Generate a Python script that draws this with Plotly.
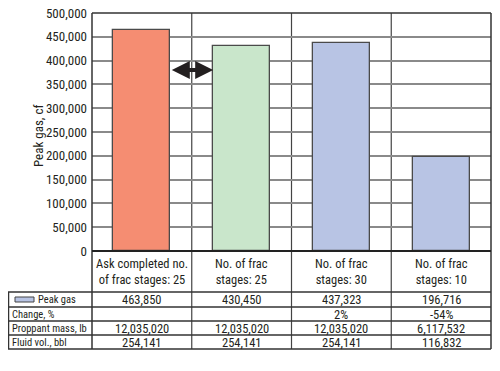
import plotly.graph_objects as go

categories = ["Ask completed no.<br>of frac stages: 25", "No. of frac<br>stages: 25",
              "No. of frac<br>stages: 30", "No. of frac<br>stages: 10"]
peak_gas = [463850, 430450, 437323, 196716]
peak_gas_txt = ["463,850", "430,450", "437,323", "196,716"]
change_txt = ["", "", "2%", "-54%"]
proppant_txt = ["12,035,020", "12,035,020", "12,035,020", "6,117,532"]
fluid_txt = ["254,141", "254,141", "254,141", "116,832"]
row_labels = ["Peak gas", "Change, %", "Proppant mass, lb", "Fluid vol., bbl"]
bar_colors = ["#F58D72", "#C9E6CB", "#B8C4E4", "#B8C4E4"]
y_ticks = list(range(0, 500001, 50000))
y_title = "Peak gas, cf"

OFF = 8  # page body margin
W, H = 500 - OFF, 371 - OFF
# plot area in window pixels: x 92..491, y 13..251
L, T = 92 - OFF, 13 - OFF
R = W - (491 - OFF)
B = H - (251 - OFF)
PH = H - T - B
PW = W - L - R
FONT = "Roboto Condensed, DejaVu Sans Condensed, sans-serif"
TXT = "#231f20"
BW = 0.57

def py(pix):  # window pixel y -> paper y
    return (H - B - (pix - OFF)) / PH

def px(pix):  # window pixel x -> paper x
    return (pix - OFF - L) / PW

def cx(c):  # category coordinate -> paper x
    return (c + 0.5) / 4

x = list(range(len(categories)))
fig = go.Figure()
fig.add_trace(go.Bar(x=x, y=peak_gas, width=BW, marker=dict(color=bar_colors,
                     line=dict(color="#4a4a4a", width=1.3)), showlegend=False))

shapes = []
ann = []
for b in [0.5, 1.5, 2.5]:
    shapes.append(dict(type="line", xref="paper", yref="paper", x0=cx(b), x1=cx(b),
                       y0=1, y1=py(349), line=dict(color="#444", width=1.2), layer="below"))
for b in [-0.5, 3.5]:
    shapes.append(dict(type="line", xref="paper", yref="paper", x0=cx(b), x1=cx(b),
                       y0=1, y1=py(349), line=dict(color="#333", width=1.5)))
shapes.append(dict(type="line", xref="paper", yref="paper", x0=0, x1=1, y0=1, y1=1,
                   line=dict(color="#333", width=1.5)))
shapes.append(dict(type="line", xref="paper", yref="paper", x0=0, x1=1, y0=0, y1=0,
                   line=dict(color="#222", width=2)))
for yy in [292, 307, 321, 335, 349]:
    shapes.append(dict(type="line", xref="paper", yref="paper", x0=px(8), x1=1,
                       y0=py(yy), y1=py(yy), line=dict(color="#333", width=1.3)))
shapes.append(dict(type="line", xref="paper", yref="paper", x0=px(8.5), x1=px(8.5),
                   y0=py(292), y1=py(349), line=dict(color="#333", width=1.5)))
shapes.append(dict(type="rect", xref="paper", yref="paper", x0=px(15), x1=px(34),
                   y0=py(302), y1=py(297), fillcolor=bar_colors[2],
                   line=dict(color="#444", width=1)))

def txt(xp, yp, s, size, xa="center", **kw):
    return dict(xref="paper", yref="paper", x=xp, y=yp, text=s, showarrow=False,
                xanchor=xa, yanchor="middle", borderpad=0,
                font=dict(family=FONT, size=size, color=TXT), **kw)

for i, c in enumerate(categories):
    ann.append(txt(cx(i), py(271.5), c, 12.5, align="center"))
rows = [peak_gas_txt, change_txt, proppant_txt, fluid_txt]
row_y = [299.5, 314, 328, 342]
for r, vals in enumerate(rows):
    for i, v in enumerate(vals):
        if v:
            ann.append(txt(cx(i), py(row_y[r]), v, 12.5))
    lx = 37 if r == 0 else 11
    ann.append(txt(px(lx), py(row_y[r]), row_labels[r], 10.5, xa="left"))

ann.append(txt(px(39), py(136), y_title, 13, textangle=-90))

ann.append(dict(x=1 - BW / 2, y=380000, ax=BW / 2, ay=380000, xref="x", yref="y",
                axref="x", ayref="y", text="", showarrow=True, arrowhead=2, arrowside="end+start",
                arrowsize=0.9, arrowwidth=4, arrowcolor="#231f20", standoff=0, startstandoff=0))

fig.update_layout(
    width=W, height=H, margin=dict(l=L, r=R, t=T, b=B, autoexpand=False),
    paper_bgcolor="white", plot_bgcolor="white",
    bargap=0,
    xaxis=dict(range=[-0.5, 3.5], showticklabels=False, showgrid=False, zeroline=False,
               ticks="", automargin=False),
    yaxis=dict(range=[0, 500000], tickvals=y_ticks, tickformat=",", showgrid=True,
               gridcolor="#8a8a8a", gridwidth=1.5, zeroline=False, ticks="", automargin=False,
               ticklabelstandoff=4, ticklabeloverflow="allow",
               tickfont=dict(family=FONT, size=13, color=TXT)),
    shapes=shapes, annotations=ann,
)
fig.write_html("out.html")
